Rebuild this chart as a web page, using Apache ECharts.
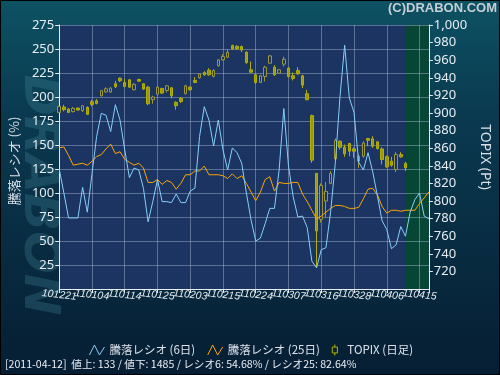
<!DOCTYPE html>
<html>
<head>
<meta charset="utf-8">
<script src="https://cdn.jsdelivr.net/npm/echarts@6/dist/echarts.min.js"></script>
<style>
html, body { margin: 0; padding: 0; background: #061e33; }
#chart { width: 500px; height: 375px; }
</style>
</head>
<body>
<div id="chart"></div>
<script>
// trading days, yymmdd
var dates = [
  '101221','101222','101224','101227','101228','101229','101230',
  '110104','110105','110106','110107','110111','110112','110113',
  '110114','110117','110118','110119','110120','110121','110124',
  '110125','110126','110127','110128','110131','110201','110202',
  '110203','110204','110207','110208','110209','110210','110214',
  '110215','110216','110217','110218','110221','110222','110223',
  '110224','110225','110228','110301','110302','110303','110304',
  '110307','110308','110309','110310','110311','110314','110315',
  '110316','110317','110318','110322','110323','110324','110325',
  '110328','110329','110330','110331','110401','110404','110405',
  '110406','110407','110408','110411','110412','110413','110414',
  '110415','110418','110419'
];

// 騰落レシオ 6日
var ratio6 = [
  125, 100, 74, 74, 74, 106, 80, 120, 159, 183,
  181, 164, 192, 176, 145, 116, 126, 124, 105, 70,
  91, 114, 91, 91, 90, 99, 90, 90, 102, 105,
  159, 190, 176, 149, 176, 145, 124, 147, 142, 131,
  100, 72, 50, 53, 68, 84, 84, 124, 188, 128,
  96, 75, 76, 64, 29, 22, 41, 43, 80, 131,
  200, 254, 199, 184, 132, 124, 142, 122, 97, 71,
  62, 42, 46, 65, 55, 80, 93, 100, 76, 73
];

// 騰落レシオ 25日
var ratio25 = [
  147, 148, 139, 129, 130, 131, 129, 133, 138, 140,
  146, 151, 141, 143, 135, 132, 129, 131, 126, 111,
  111, 114, 109, 113, 111, 104, 110, 119, 119, 123,
  123, 128, 119, 119, 119, 118, 115, 120, 115, 118,
  110, 101, 92, 101, 114, 117, 102, 111, 110, 110,
  111, 111, 99, 91, 82, 73, 76, 80, 84, 87,
  87, 86, 84, 84, 85, 94, 104, 105, 98, 86,
  79, 82, 82, 81, 82, 82, 82, 89, 95, 101
];

// TOPIX daily (up to 2011-04-12)
var topixOpen = [
  900.7, 906.8, 904.5, 901.5, 905.6, 902.6, 906.4, 912.8, 913.9, 919.6,
  924.1, 923.8, 933.2, 939.6, 934.7, 937.7, 926.4, 938.1, 933.2, 929.4,
  915.1, 921.5, 927.9, 925.6, 928.7, 912.1, 916.6, 921.9, 929.4, 937.0,
  940.0, 946.0, 948.7, 941.5, 953.6, 960.4, 963.4, 976.6, 975.8, 975.5,
  969.0, 949.1, 943.4, 934.7, 941.5, 956.6, 952.1, 945.3, 955.5, 951.0,
  942.3, 948.3, 942.3, 921.9, 897.0, 831.3, 779.2, 800.0, 820.0, 847.9,
  867.9, 861.1, 865.3, 859.2, 845.3, 851.0, 871.0, 870.6, 867.2, 859.2,
  850.2, 845.3, 835.8, 852.8, 842.6
];
var topixClose = [
  907.5, 903.8, 900.7, 905.3, 903.4, 908.3, 898.5, 909.8, 910.9, 925.3,
  927.5, 928.3, 929.8, 936.6, 930.2, 929.4, 932.5, 936.2, 927.2, 910.5,
  918.1, 929.4, 922.6, 930.9, 919.6, 908.3, 913.2, 930.9, 926.4, 934.7,
  944.5, 943.4, 943.4, 948.3, 960.4, 964.1, 969.0, 972.8, 973.2, 971.7,
  957.3, 946.4, 934.7, 942.3, 952.1, 964.9, 943.4, 949.1, 961.1, 941.5,
  939.3, 944.5, 931.7, 915.1, 846.4, 766.0, 817.7, 810.9, 831.3, 869.0,
  861.1, 853.6, 856.6, 856.6, 851.0, 866.0, 869.0, 862.3, 859.6, 847.2,
  838.9, 840.7, 852.8, 850.2, 837.7
];
var topixLow = [
  900.0, 901.9, 900.0, 900.7, 903.0, 901.1, 897.7, 907.5, 909.8, 918.9,
  923.0, 923.0, 928.3, 935.1, 929.4, 928.7, 925.6, 935.5, 926.4, 909.0,
  910.5, 919.2, 922.0, 923.4, 916.6, 903.8, 911.3, 921.1, 925.6, 934.0,
  938.9, 942.3, 942.3, 940.4, 952.8, 959.6, 962.6, 971.7, 971.7, 969.4,
  956.0, 946.0, 933.2, 934.0, 935.8, 956.0, 942.3, 944.5, 952.8, 940.4,
  937.0, 943.4, 928.3, 914.4, 843.4, 724.5, 775.5, 781.1, 819.0, 846.0,
  858.5, 850.2, 850.9, 849.1, 837.7, 849.1, 862.3, 860.4, 858.5, 841.5,
  837.7, 838.9, 832.8, 849.1, 834.0
];
var topixHigh = [
  908.3, 909.4, 905.6, 906.8, 906.4, 909.0, 907.5, 915.1, 915.8, 926.4,
  929.0, 929.4, 936.6, 940.4, 938.5, 938.5, 934.0, 938.9, 934.0, 930.9,
  919.6, 930.9, 928.7, 931.7, 929.4, 913.2, 918.1, 932.1, 930.2, 940.7,
  945.3, 947.5, 950.9, 949.8, 961.1, 966.8, 972.4, 977.7, 976.9, 976.6,
  970.0, 958.5, 944.5, 943.4, 953.6, 966.0, 954.3, 949.8, 964.1, 952.1,
  946.0, 952.1, 943.4, 926.4, 898.1, 832.0, 820.0, 821.5, 834.0, 871.0,
  869.0, 864.1, 866.0, 861.1, 852.8, 867.9, 871.7, 873.6, 867.9, 861.1,
  851.7, 850.2, 855.5, 855.5, 844.5
];

var footerText = '[2011-04-12]  値上: 133 / 値下: 1485 / レシオ6: 54.68% / レシオ25: 82.64%';

var lastIndex = topixClose.length - 1;
var candles = [];
for (var i = 0; i < dates.length; i++) {
  if (i < topixOpen.length) {
    candles.push([topixOpen[i], topixClose[i], topixLow[i], topixHigh[i]]);
  } else {
    candles.push('-');
  }
}

var numFont = 'Noto Sans';
var jpFont = 'Noto Sans CJK JP';
var axisCol = '#e6ecf2';
var gridCol = 'rgba(185,198,225,0.42)';
var zigzag = 'path://M0,11 L5,1 L10,11 L15,3';

var chart = echarts.init(document.getElementById('chart'));
var option = {
  animation: false,
  backgroundColor: {
    type: 'linear', x: 0, y: 0, x2: 0, y2: 1,
    colorStops: [
      { offset: 0, color: '#0d5263' },
      { offset: 0.3, color: '#0a3a50' },
      { offset: 1, color: '#061e33' }
    ]
  },
  grid: {
    left: 56, right: 64, top: 25, bottom: 86,
    show: true, backgroundColor: '#1b3461', borderWidth: 0
  },
  legend: {
    top: 337, left: 'center',
    itemWidth: 15, itemHeight: 11, itemGap: 10,
    textStyle: { color: '#dce2ea', fontSize: 11.5, fontFamily: jpFont },
    data: [
      { name: '騰落レシオ (6日)', icon: zigzag,
        itemStyle: { color: 'none', borderColor: '#87cefa', borderWidth: 1 } },
      { name: '騰落レシオ (25日)', icon: zigzag,
        itemStyle: { color: 'none', borderColor: '#ffa500', borderWidth: 1 } },
      { name: 'TOPIX (日足)', icon: 'path://M4,0 L4,3 M1,3 L7,3 L7,10 L1,10 Z M4,10 L4,13',
        itemStyle: { color: 'none', borderColor: '#b5b000', borderWidth: 1 } }
    ]
  },
  xAxis: {
    type: 'category', data: dates, boundaryGap: false, z: 1.5,
    axisLine: { lineStyle: { color: axisCol, width: 1 } },
    axisTick: { interval: 6, length: 4, lineStyle: { color: axisCol } },
    axisLabel: {
      interval: 0, showMinLabel: true, hideOverlap: false,
      formatter: function (v, idx) { return idx % 7 === 0 ? v : ''; },
      color: axisCol, fontSize: 10.5, fontFamily: 'Liberation Sans',
      fontStyle: 'italic', rotate: -6, align: 'center', margin: 6
    },
    splitLine: { show: true, interval: 6, lineStyle: { color: gridCol } }
  },
  yAxis: [
    {
      type: 'value', min: 0, max: 275, interval: 25, position: 'left', z: 1.5,
      name: '騰落レシオ (%)', nameLocation: 'middle', nameGap: 35,
      nameTextStyle: { color: '#d8dfe8', fontSize: 13, fontFamily: jpFont, padding: [0, 8, 0, 0] },
      axisLine: { show: true, lineStyle: { color: axisCol } },
      axisTick: { show: true, length: 4, lineStyle: { color: axisCol } },
      axisLabel: { showMinLabel: false, color: axisCol, fontSize: 13, fontFamily: numFont, margin: 5 },
      splitLine: { show: true, lineStyle: { color: gridCol } }
    },
    {
      type: 'value', min: 700, max: 1000, interval: 20, position: 'right', z: 1.5,
      name: 'TOPIX (Pt)', nameLocation: 'middle', nameGap: 40, nameRotate: -90,
      nameTextStyle: { color: '#d8dfe8', fontSize: 14, fontFamily: numFont },
      axisLine: { show: true, lineStyle: { color: axisCol } },
      axisTick: { show: true, length: 4, lineStyle: { color: axisCol } },
      axisLabel: {
        showMinLabel: false, color: axisCol, fontSize: 13, fontFamily: numFont, margin: 5,
        formatter: function (v) { return v.toLocaleString('en-US'); }
      },
      splitLine: { show: false }
    }
  ],
  series: [
    {
      name: 'TOPIX (日足)', type: 'candlestick', yAxisIndex: 1, data: candles,
      barWidth: 3,
      itemStyle: {
        color: '#1b3461', color0: '#9c9800',
        borderColor: '#9c9838', borderColor0: '#b3af00', borderWidth: 1
      },
      markArea: {
        silent: true,
        itemStyle: { color: '#074535' },
        data: [[{ xAxis: lastIndex }, { xAxis: dates.length - 1 }]]
      }
    },
    {
      name: '騰落レシオ (25日)', type: 'line', data: ratio25, symbol: 'none',
      lineStyle: { color: '#ffa500', width: 1 }, itemStyle: { color: '#ffa500' }
    },
    {
      name: '騰落レシオ (6日)', type: 'line', data: ratio6, symbol: 'none',
      lineStyle: { color: '#87cefa', width: 1 }, itemStyle: { color: '#87cefa' }
    }
  ],
  graphic: [
    {
      type: 'text', z: -1, x: 38, y: 195, rotation: -Math.PI / 2,
      style: {
        text: 'DRABON', fill: 'rgba(80,150,170,0.25)',
        font: 'italic bold 50px "DejaVu Sans"', textAlign: 'center', textVerticalAlign: 'middle'
      }
    },
    {
      type: 'text', right: 3, top: 2,
      style: { text: '(C)DRABON.COM', fill: '#c6ced6', font: 'bold 13px "Liberation Sans"' }
    },
    {
      type: 'text', left: 5, top: 359,
      style: { text: footerText, fill: '#e8eef4', font: '10.6px "Noto Sans CJK JP"' }
    },
    {
      type: 'rect', z: 100, silent: true,
      shape: { x: 0.5, y: 0.5, width: 499, height: 374 },
      style: { fill: 'none', stroke: '#000', lineWidth: 1 }
    }
  ]
};
chart.setOption(option);
</script>
</body>
</html>
